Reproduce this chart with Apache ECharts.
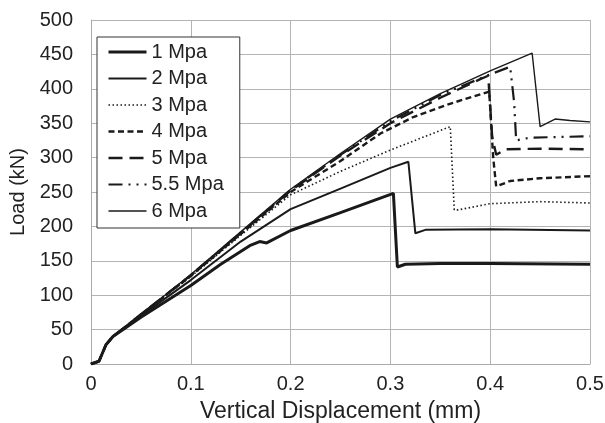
<!DOCTYPE html>
<html><head><meta charset="utf-8">
<script src="https://cdn.jsdelivr.net/npm/echarts@6/dist/echarts.min.js"></script>
<style>html,body{margin:0;padding:0;background:#fff}#c{width:605px;height:423px}</style>
</head><body><div id="c"></div>
<script>
const seriesNames = ['1 Mpa','2 Mpa','3 Mpa','4 Mpa','5 Mpa','5.5 Mpa','6 Mpa'];
const xTicks = [0, 0.1, 0.2, 0.3, 0.4, 0.5];
const yTicks = [0, 50, 100, 150, 200, 250, 300, 350, 400, 450, 500];

const x1 = [0, 0.008, 0.015, 0.022, 0.05, 0.1, 0.13, 0.159, 0.169, 0.176, 0.2, 0.25, 0.303, 0.307, 0.315, 0.35, 0.4, 0.5];
const y1 = [0, 4, 28, 40, 68, 114, 145, 172, 178, 176, 194, 220, 248, 141, 145, 146, 146, 145];

const x2 = [0, 0.008, 0.015, 0.022, 0.05, 0.1, 0.15, 0.2, 0.25, 0.3, 0.318, 0.325, 0.335, 0.4, 0.5];
const y2 = [0, 4, 28, 40, 70, 122, 178, 225, 255, 285, 294, 190, 195, 196, 194];

const x3 = [0, 0.008, 0.015, 0.022, 0.05, 0.1, 0.15, 0.2, 0.25, 0.3, 0.36, 0.364, 0.368, 0.4, 0.45, 0.5];
const y3 = [0, 4, 28, 40, 72, 127, 187, 246, 280, 311, 345, 224, 224, 233, 236, 234];

const x4 = [0, 0.008, 0.015, 0.022, 0.05, 0.1, 0.15, 0.2, 0.25, 0.29, 0.323, 0.357, 0.399, 0.403, 0.406, 0.42, 0.45, 0.5];
const y4 = [0, 4, 28, 40, 72, 128, 189, 250, 295, 335, 359, 377, 396, 300, 258, 266, 270, 273];

const x5 = [0, 0.008, 0.015, 0.022, 0.05, 0.1, 0.15, 0.2, 0.25, 0.3, 0.35, 0.39, 0.398, 0.402, 0.406, 0.415, 0.45, 0.5];
const y5 = [0, 4, 28, 40, 72, 129, 190, 252, 303, 350, 387, 414, 419, 330, 304, 312, 313, 312];

const x55 = [0, 0.008, 0.015, 0.022, 0.05, 0.1, 0.15, 0.2, 0.25, 0.3, 0.35, 0.4, 0.42, 0.424, 0.426, 0.44, 0.5];
const y55 = [0, 4, 28, 40, 72, 129, 191, 253, 304, 353, 391, 421, 432, 380, 325, 329, 331];

const x6 = [0, 0.008, 0.015, 0.022, 0.05, 0.1, 0.15, 0.2, 0.25, 0.3, 0.35, 0.4, 0.442, 0.45, 0.465, 0.48, 0.5];
const y6 = [0, 4, 28, 40, 72, 130, 192, 254, 306, 356, 393, 426, 452, 345, 356, 354, 352];

const xs = [x1, x2, x3, x4, x5, x55, x6];
const ys = [y1, y2, y3, y4, y5, y55, y6];
const styles = [
  {width: 3, type: 'solid'},
  {width: 2, type: 'solid'},
  {width: 1.6, type: [1.5, 2.5]},
  {width: 2.4, type: [6, 3.5]},
  {width: 2.4, type: [14, 7]},
  {width: 2.2, type: [14, 6, 2, 6, 2, 6]},
  {width: 1.4, type: 'solid'}
];
const font = 'Liberation Sans, Arial, sans-serif';
const chart = echarts.init(document.getElementById('c'), null, {renderer: 'canvas'});
chart.setOption({
  animation: false,
  backgroundColor: '#fff',
  grid: {left: 91, right: 15, top: 20, bottom: 59, containLabel: false, outerBoundsMode: 'none'},
  legend: {
    orient: 'vertical', left: 97, top: 37,
    itemWidth: 38, itemHeight: 10, itemGap: 6.5,
    padding: [5, 16, 7, 10],
    borderColor: '#333', borderWidth: 1, backgroundColor: '#fff',
    itemStyle: {opacity: 0},
    textStyle: {fontFamily: font, fontSize: 20, color: '#222', padding: [0,0,0,0]},
    data: seriesNames.map((n, i) => ({
      name: n,
      itemStyle: {opacity: 0},
      lineStyle: {color: '#1a1a1a', width: styles[i].width, type: styles[i].type, opacity: 1}
    }))
  },
  xAxis: {
    type: 'value', min: 0, max: 0.5, interval: 0.1,
    name: 'Vertical Displacement (mm)', nameLocation: 'middle', nameGap: 36,
    nameTextStyle: {fontFamily: font, fontSize: 23, color: '#222'},
    axisLine: {lineStyle: {color: '#aaa', width: 1}},
    axisTick: {show: false},
    axisLabel: {fontFamily: font, fontSize: 20, color: '#222', margin: 10,
      formatter: v => { const t = xTicks.find(a => Math.abs(a - v) < 1e-9); return t === undefined ? '' : String(t); }},
    splitLine: {show: true, lineStyle: {color: '#b4b4b4', width: 1}}
  },
  yAxis: {
    type: 'value', min: 0, max: 500, interval: 50,
    name: 'Load (kN)', nameLocation: 'middle', nameGap: 57, nameRotate: 90,
    nameTextStyle: {fontFamily: font, fontSize: 20, color: '#222'},
    axisLine: {show: true, lineStyle: {color: '#aaa', width: 1}},
    axisTick: {show: false},
    axisLabel: {fontFamily: font, fontSize: 20, color: '#222', margin: 18,
      formatter: v => { const t = yTicks.find(a => Math.abs(a - v) < 1e-9); return t === undefined ? '' : String(t); }},
    splitLine: {show: true, lineStyle: {color: '#b4b4b4', width: 1}}
  },
  series: seriesNames.map((n, i) => ({
    name: n, type: 'line', showSymbol: false, symbol: 'none',
    data: xs[i].map((x, j) => [x, ys[i][j]]),
    lineStyle: {color: '#1a1a1a', width: styles[i].width, type: styles[i].type},
    itemStyle: {color: '#1a1a1a'},
    z: 10 - i
  }))
});
</script></body></html>
